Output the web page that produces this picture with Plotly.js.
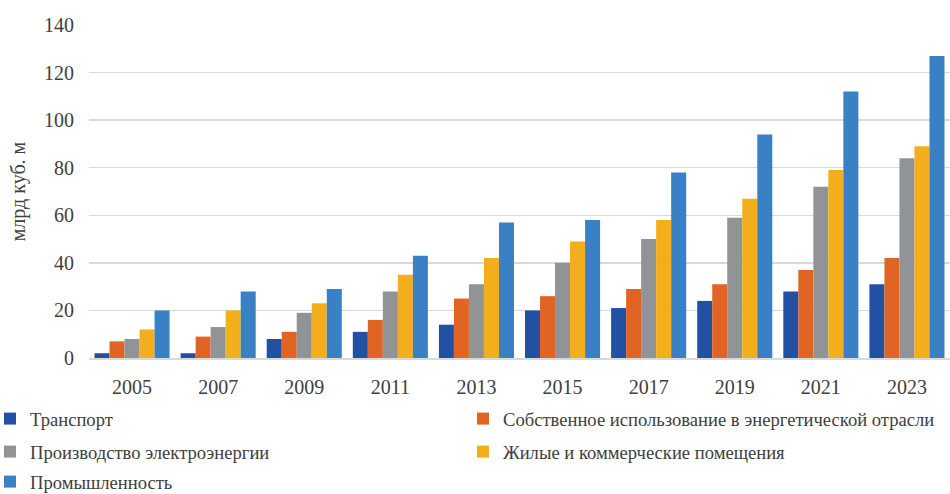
<!DOCTYPE html>
<html>
<head>
<meta charset="utf-8">
<script src="https://cdn.plot.ly/plotly-3.0.1.min.js"></script>
<style>html,body{margin:0;padding:0;background:#fff;}#chart{width:950px;height:494px;}</style>
</head>
<body>
<div id="chart"></div>
<script>
const years = ['2005','2007','2009','2011','2013','2015','2017','2019','2021','2023'];
const seriesNames = ['Транспорт','Собственное использование в энергетической отрасли','Производство электроэнергии','Жилые и коммерческие помещения','Промышленность'];
const transport   = [2, 2, 8, 11, 14, 20, 21, 24, 28, 31];
const ownUse      = [7, 9, 11, 16, 25, 26, 29, 31, 37, 42];
const power       = [8, 13, 19, 28, 31, 40, 50, 59, 72, 84];
const residential = [12, 20, 23, 35, 42, 49, 58, 67, 79, 89];
const industry    = [20, 28, 29, 43, 57, 58, 78, 94, 112, 127];
const colors = ['#2251A3','#E06424','#909497','#F2AE1C','#3A80C5'];
const legendIds = ['legend','legend2','legend3','legend4','legend5'];

const values = [transport, ownUse, power, residential, industry];
const traces = values.map((v, i) => ({
  type: 'bar',
  name: seriesNames[i],
  x: years,
  y: v,
  marker: {color: colors[i], line: {width: 0}},
  legend: legendIds[i],
  hoverinfo: 'x+y+name'
}));

const FAM = 'Liberation Serif, Times New Roman, serif';
const font = {family: FAM, color: '#404040'};
const W = 861, H = 333, L = 89, B = 358;
function lx(px){ return (px - L) / W; }
function ly(py){ return (B - py) / H; }
function legendAt(px, py){
  return {
    orientation: 'v',
    xref: 'paper', yref: 'paper',
    x: lx(px), xanchor: 'left',
    y: ly(py), yanchor: 'middle',
    font: {family: FAM, color: '#404040', size: 18.6},
    bgcolor: 'rgba(0,0,0,0)',
    itemwidth: 30
  };
}

const layout = {
  width: 950, height: 494,
  margin: {l: L, r: 0, t: 25, b: 136, autoexpand: false},
  paper_bgcolor: '#fff', plot_bgcolor: '#fff',
  font: font,
  barmode: 'group',
  bargap: 0.128,
  bargroupgap: 0,
  xaxis: {
    type: 'category',
    tickfont: {family: FAM, color: '#404040', size: 20},
    showgrid: false,
    showline: true, linecolor: '#d9d9d9', linewidth: 1.5,
    ticks: '', ticklabelstandoff: 10,
    fixedrange: true
  },
  yaxis: {
    range: [0, 140],
    dtick: 20,
    tickfont: {family: FAM, color: '#404040', size: 20},
    showgrid: true, gridcolor: '#d9d9d9', gridwidth: 1.5,
    zeroline: false,
    ticks: '', ticklabelstandoff: 14,
    title: {text: 'млрд куб. м', font: {family: FAM, color: '#404040', size: 20}, standoff: 13},
    fixedrange: true
  },
  legend:  legendAt(-10, 419),
  legend2: legendAt(463, 419),
  legend3: legendAt(-10, 452),
  legend4: legendAt(463, 452),
  legend5: legendAt(-10, 482),
  showlegend: true
};

Plotly.newPlot('chart', traces, layout, {displayModeBar: false, staticPlot: true});
</script>
</body>
</html>
